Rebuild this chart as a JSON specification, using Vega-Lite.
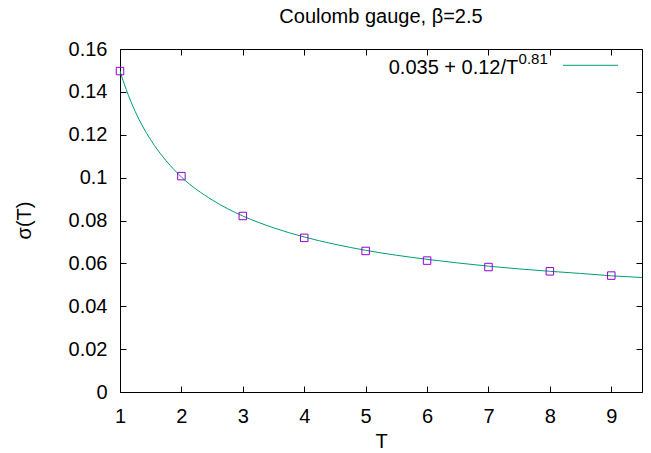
{
  "$schema": "https://vega.github.io/schema/vega-lite/v6.json",
  "width": 522,
  "height": 343,
  "autosize": {"type": "none"},
  "padding": {"left": 120, "top": 49, "right": 9, "bottom": 61},
  "background": "white",
  "config": {
    "font": "Liberation Sans",
    "view": {"stroke": "black", "strokeWidth": 1},
    "axis": {"domain": false, "grid": false, "tickColor": "black", "labelColor": "black", "titleColor": "black", "labelFont": "Liberation Sans", "titleFont": "Liberation Sans", "labelFontSize": 20, "titleFontSize": 20, "titleFontWeight": "normal"}
  },
  "title": {"text": "Coulomb gauge, β=2.5", "fontSize": 20, "fontWeight": "normal", "font": "Liberation Sans", "color": "black", "anchor": "middle", "offset": 12},
  "datasets": {
    "points": [
      {"T": 1, "sigma": 0.1497},
      {"T": 2, "sigma": 0.1007},
      {"T": 3, "sigma": 0.0821},
      {"T": 4, "sigma": 0.0719},
      {"T": 5, "sigma": 0.0658},
      {"T": 6, "sigma": 0.0613},
      {"T": 7, "sigma": 0.0583},
      {"T": 8, "sigma": 0.0563},
      {"T": 9, "sigma": 0.0543}
    ],
    "fit": [
      {"T": 1, "sigma": 0.1497},
      {"T": 1.1, "sigma": 0.1412},
      {"T": 1.25, "sigma": 0.1307},
      {"T": 1.5, "sigma": 0.1176},
      {"T": 1.75, "sigma": 0.1079},
      {"T": 2, "sigma": 0.1003},
      {"T": 2.5, "sigma": 0.0896},
      {"T": 3, "sigma": 0.0821},
      {"T": 3.5, "sigma": 0.0766},
      {"T": 4, "sigma": 0.0723},
      {"T": 4.5, "sigma": 0.0689},
      {"T": 5, "sigma": 0.0661},
      {"T": 5.5, "sigma": 0.0638},
      {"T": 6, "sigma": 0.0619},
      {"T": 6.5, "sigma": 0.0602},
      {"T": 7, "sigma": 0.0587},
      {"T": 7.5, "sigma": 0.0574},
      {"T": 8, "sigma": 0.0563},
      {"T": 8.5, "sigma": 0.0553},
      {"T": 9, "sigma": 0.0542},
      {"T": 9.5, "sigma": 0.0534}
    ],
    "one": [{}]
  },
  "resolve": {"axis": {"x": "independent", "y": "independent"}},
  "layer": [
    {
      "data": {"name": "fit"},
      "mark": {"type": "line", "color": "#009e73", "strokeWidth": 1, "interpolate": "monotone", "clip": true},
      "encoding": {
        "x": {"field": "T", "type": "quantitative", "scale": {"domain": [1, 9.5], "nice": false, "zero": false},
          "axis": {"title": "T", "values": [1, 2, 3, 4, 5, 6, 7, 8, 9], "format": "d", "tickSize": -6, "labelPadding": 20, "labelFlush": false, "titleBaseline": "middle", "titleY": 49, "titleX": 261}},
        "y": {"field": "sigma", "type": "quantitative", "scale": {"domain": [0, 0.16], "nice": false},
          "axis": {"title": "σ(T)", "values": [0, 0.02, 0.04, 0.06, 0.08, 0.1, 0.12, 0.14, 0.16], "format": "~f", "tickSize": -6, "labelPadding": 19, "labelFlush": false, "titleBaseline": "middle", "titleAngle": -90, "titleX": -96, "titleY": 171}}
      }
    },
    {
      "data": {"name": "points"},
      "mark": {"type": "point", "shape": "square", "filled": false, "color": "#9400d3", "size": 56, "strokeWidth": 1, "opacity": 1},
      "encoding": {
        "x": {"field": "T", "type": "quantitative", "axis": {"orient": "top", "title": null, "labels": false, "values": [1, 2, 3, 4, 5, 6, 7, 8, 9], "tickSize": -6}},
        "y": {"field": "sigma", "type": "quantitative", "axis": {"orient": "right", "title": null, "labels": false, "values": [0, 0.02, 0.04, 0.06, 0.08, 0.1, 0.12, 0.14, 0.16], "tickSize": -6}}
      }
    },
    {
      "data": {"name": "one"},
      "mark": {"type": "text", "text": "0.035 + 0.12/T", "align": "right", "baseline": "middle", "fontSize": 20, "font": "Liberation Sans", "color": "black"},
      "encoding": {
        "x": {"datum": 7.485, "type": "quantitative", "axis": null},
        "y": {"datum": 0.1511, "type": "quantitative", "axis": null}
      }
    },
    {
      "data": {"name": "one"},
      "mark": {"type": "text", "text": "0.81", "align": "left", "baseline": "middle", "fontSize": 15, "font": "Liberation Sans", "color": "black"},
      "encoding": {
        "x": {"datum": 7.49, "type": "quantitative", "axis": null},
        "y": {"datum": 0.1552, "type": "quantitative", "axis": null}
      }
    },
    {
      "data": {"name": "one"},
      "mark": {"type": "rule", "color": "#009e73", "strokeWidth": 1},
      "encoding": {
        "x": {"datum": 8.214, "type": "quantitative", "axis": null},
        "x2": {"datum": 9.109},
        "y": {"datum": 0.1524, "type": "quantitative", "axis": null}
      }
    }
  ]
}
